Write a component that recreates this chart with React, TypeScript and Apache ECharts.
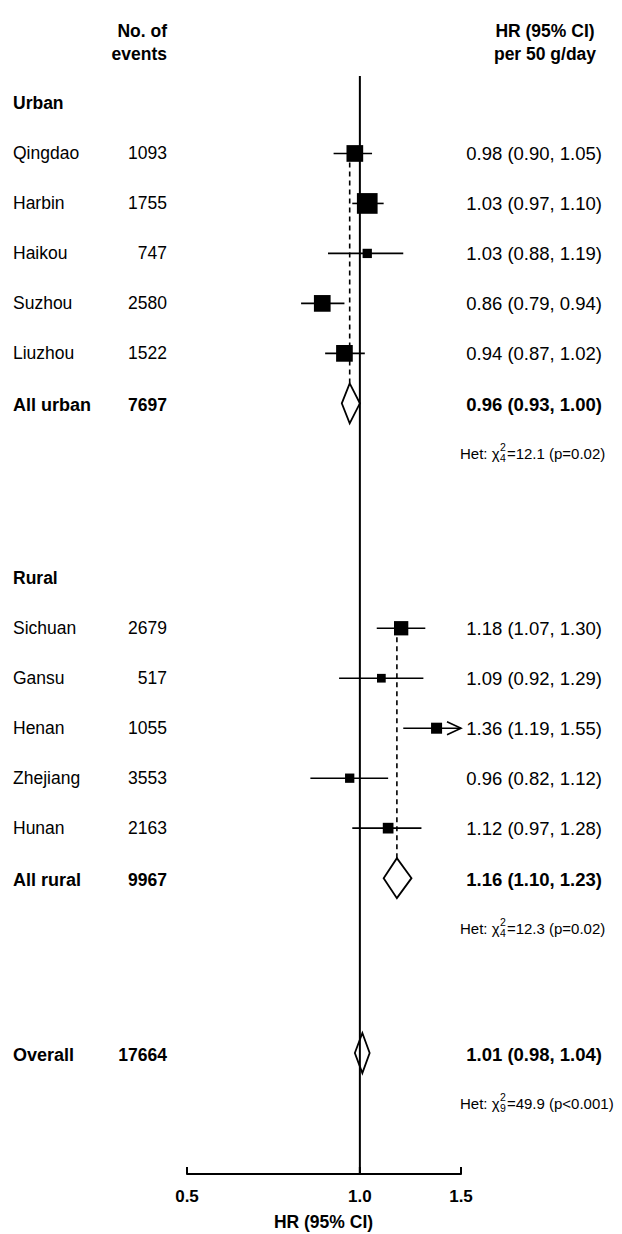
import React, { useEffect, useRef } from 'react';
import * as echarts from 'echarts';

// ---------- data ----------
const groupNames = ['Urban', 'Rural'];

const urbanNames = ['Qingdao', 'Harbin', 'Haikou', 'Suzhou', 'Liuzhou'];
const urbanEvents = [1093, 1755, 747, 2580, 1522];
const urbanHR = [0.98, 1.03, 1.03, 0.86, 0.94];
const urbanLower = [0.9, 0.97, 0.88, 0.79, 0.87];
const urbanUpper = [1.05, 1.1, 1.19, 0.94, 1.02];
const urbanWeight = [15.8, 24.3, 4.9, 15.8, 15.8];

const ruralNames = ['Sichuan', 'Gansu', 'Henan', 'Zhejiang', 'Hunan'];
const ruralEvents = [2679, 517, 1055, 3553, 2163];
const ruralHR = [1.18, 1.09, 1.36, 0.96, 1.12];
const ruralLower = [1.07, 0.92, 1.19, 0.82, 0.97];
const ruralUpper = [1.3, 1.29, 1.55, 1.12, 1.28];
const ruralWeight = [11.6, 4.3, 6.9, 4.9, 6.5];

const summaryNames = ['All urban', 'All rural', 'Overall'];
const summaryEvents = [7697, 9967, 17664];
const summaryHR = [0.96, 1.16, 1.01];
const summaryLower = [0.93, 1.1, 0.98];
const summaryUpper = [1.0, 1.23, 1.04];

const hetChi2 = ['12.1', '12.3', '49.9'];
const hetDf = ['4', '4', '9'];
const hetP = ['p=0.02', 'p=0.02', 'p<0.001'];

const axisTicks = [0.5, 1.0, 1.5];
const axisTitle = 'HR (95% CI)';
const leftHeader = ['No. of', 'events'];
const rightHeader = ['HR (95% CI)', 'per 50 g/day'];

// ---------- layout ----------
const FONT = '"Liberation Sans", Arial, sans-serif';
const ROW_FS = 17.5;
const HR_FS = 18.5;
const HDR_FS = 17.5;
const HET_FS = 15;
const X_MIN = 0.5;
const X_MAX = 1.5;
const Y_MIN = -0.55;
const Y_MAX = 21.42;
const GROUP_START = [0, 9.5];
const OVERALL_ROW = 19;
const DIAMOND_HALF = 20;
const BOX_K = 4.2;
const NAME_X = 13;
const EVENTS_X = 167;
const HR_X = 602;
const HET_X = 460;

const fmt = (v: number) => v.toFixed(2);
const ciText = (h: number, l: number, u: number) => `${fmt(h)} (${fmt(l)}, ${fmt(u)})`;

type Study = { name: string; events: number; hr: number; lo: number; hi: number; w: number; r: number };
const groupsData = [
  { names: urbanNames, events: urbanEvents, hr: urbanHR, lo: urbanLower, hi: urbanUpper, w: urbanWeight },
  { names: ruralNames, events: ruralEvents, hr: ruralHR, lo: ruralLower, hi: ruralUpper, w: ruralWeight },
];
const studies: Study[] = [];
groupsData.forEach((g, gi) => {
  g.names.forEach((n, i) => {
    studies.push({ name: n, events: g.events[i], hr: g.hr[i], lo: g.lo[i], hi: g.hi[i], w: g.w[i], r: GROUP_START[gi] + 1 + i });
  });
});
const summaryRows = [GROUP_START[0] + 6, GROUP_START[1] + 6, OVERALL_ROW];

let measureCtx: CanvasRenderingContext2D | null = null;
function textWidth(t: string, size: number, weight = 'normal') {
  if (!measureCtx) measureCtx = document.createElement('canvas').getContext('2d');
  if (!measureCtx) return t.length * size * 0.55;
  measureCtx.font = `${weight} ${size}px ${FONT}`;
  return measureCtx.measureText(t).width;
}

function txt(text: string, x: number, y: number, size: number, align: string, weight = 'normal') {
  return {
    type: 'text',
    style: { text, x, y, fill: '#000', fontSize: size, fontFamily: FONT, fontWeight: weight, align, verticalAlign: 'middle' },
  };
}

function gtext(text: string, x: number, y: number, size: number, align: string) {
  return {
    type: 'text',
    x,
    y,
    style: { text, fill: '#000', fontSize: size, fontWeight: 'bold', fontFamily: FONT, align, verticalAlign: 'middle' },
  };
}

export default function App() {
  const ref = useRef<HTMLDivElement>(null);
  useEffect(() => {
    if (!ref.current) return;
    const chart = echarts.init(ref.current, undefined, { renderer: 'svg' });
    const option: any = {
      animation: false,
      backgroundColor: '#fff',
      grid: { left: 187, right: 161, top: 76, bottom: 60, containLabel: false, outerBoundsMode: 'none' },
      xAxis: {
        type: 'log',
        logBase: 10,
        min: X_MIN,
        max: X_MAX,
        axisLine: { show: true, onZero: false, lineStyle: { color: '#000', width: 2 } },
        axisTick: { show: false },
        axisLabel: { show: false },
        splitLine: { show: false },
      },
      yAxis: { type: 'value', min: Y_MIN, max: Y_MAX, inverse: true, show: false, splitLine: { show: false } },
      graphic: [
        gtext(leftHeader[0], 167, 31, HDR_FS, 'right'),
        gtext(leftHeader[1], 167, 54, HDR_FS, 'right'),
        gtext(rightHeader[0], 545, 31, HDR_FS, 'center'),
        gtext(rightHeader[1], 545, 54, HDR_FS, 'center'),
        gtext(axisTitle, 323.5, 1222, 17.5, 'center'),
      ],
      series: [
        // dashed lines for subgroup estimates
        {
          type: 'custom',
          clip: false,
          z: 1,
          data: [0, 1].map((gi) => [summaryHR[gi], GROUP_START[gi] + 1]),
          renderItem: (params: any, api: any) => {
            const gi = params.dataIndex;
            const top = api.coord([summaryHR[gi], GROUP_START[gi] + 1]);
            const bot = api.coord([summaryHR[gi], summaryRows[gi]]);
            return {
              type: 'line',
              shape: { x1: top[0], y1: top[1], x2: bot[0], y2: bot[1] - DIAMOND_HALF },
              style: { stroke: '#000', lineWidth: 1.6, lineDash: [5, 4] },
            };
          },
        },
        // group headers
        {
          type: 'custom',
          clip: false,
          z: 2,
          data: groupNames.map((_, gi) => [1, GROUP_START[gi]]),
          renderItem: (params: any, api: any) => {
            const c = api.coord([1, GROUP_START[params.dataIndex]]);
            return txt(groupNames[params.dataIndex], NAME_X, c[1], 17.5, 'left', 'bold');
          },
        },
        // studies
        {
          type: 'custom',
          clip: false,
          z: 3,
          data: studies.map((s) => [s.hr, s.r]),
          renderItem: (params: any, api: any) => {
            const s = studies[params.dataIndex];
            const c = api.coord([s.hr, s.r]);
            const y = c[1];
            const xMinPx = api.coord([X_MIN, s.r])[0];
            const xMaxPx = api.coord([X_MAX, s.r])[0];
            const xl = Math.max(api.coord([s.lo, s.r])[0], xMinPx);
            const xr = Math.min(api.coord([s.hi, s.r])[0], xMaxPx);
            const side = BOX_K * Math.sqrt(s.w);
            const children: any[] = [
              { type: 'line', shape: { x1: xl, y1: y, x2: xr, y2: y }, style: { stroke: '#000', lineWidth: 1.6 } },
              { type: 'rect', shape: { x: c[0] - side / 2, y: y - side / 2, width: side, height: side }, style: { fill: '#000' } },
              txt(s.name, NAME_X, y, ROW_FS, 'left'),
              txt(String(s.events), EVENTS_X, y, ROW_FS, 'right'),
              txt(ciText(s.hr, s.lo, s.hi), HR_X, y, HR_FS, 'right'),
            ];
            if (s.hi > X_MAX) {
              children.push({
                type: 'polyline',
                shape: { points: [[xr - 14, y - 6.5], [xr, y], [xr - 14, y + 6.5]] },
                style: { stroke: '#000', lineWidth: 1.6, fill: 'none' },
              });
            }
            return { type: 'group', children };
          },
        },
        // summaries (diamonds)
        {
          type: 'custom',
          clip: false,
          z: 3,
          data: summaryHR.map((h, i) => [h, summaryRows[i]]),
          renderItem: (params: any, api: any) => {
            const i = params.dataIndex;
            const r = summaryRows[i];
            const c = api.coord([summaryHR[i], r]);
            const xl = api.coord([summaryLower[i], r])[0];
            const xr = api.coord([summaryUpper[i], r])[0];
            const y = c[1];
            return {
              type: 'group',
              children: [
                {
                  type: 'polygon',
                  shape: { points: [[xl, y], [c[0], y - DIAMOND_HALF], [xr, y], [c[0], y + DIAMOND_HALF]] },
                  style: { fill: '#fff', stroke: '#000', lineWidth: 1.8 },
                },
                txt(summaryNames[i], NAME_X, y + 1.5, 18, 'left', 'bold'),
                txt(String(summaryEvents[i]), EVENTS_X, y + 1.5, ROW_FS, 'right', 'bold'),
                txt(ciText(summaryHR[i], summaryLower[i], summaryUpper[i]), HR_X, y + 1.5, HR_FS, 'right', 'bold'),
              ],
            };
          },
        },
        // heterogeneity texts
        {
          type: 'custom',
          clip: false,
          z: 3,
          data: summaryRows.map((r) => [1, r + 1]),
          renderItem: (params: any, api: any) => {
            const i = params.dataIndex;
            const y = api.coord([1, summaryRows[i] + 1])[1];
            const p1 = 'Het: \u03c7';
            const x1 = HET_X + textWidth(p1, HET_FS);
            const sw = Math.max(textWidth('2', 10.5), textWidth(hetDf[i], 10.5));
            const p2 = `=${hetChi2[i]} (${hetP[i]})`;
            return {
              type: 'group',
              children: [
                txt(p1, HET_X, y, HET_FS, 'left'),
                txt('2', x1 + 0.5, y - 6, 10.5, 'left'),
                txt(hetDf[i], x1 + 0.5, y + 5, 10.5, 'left'),
                txt(p2, x1 + sw + 1.5, y, HET_FS, 'left'),
              ],
            };
          },
        },
        // axis ticks and labels
        {
          type: 'custom',
          clip: false,
          z: 3,
          data: axisTicks.map((v) => [v, Y_MAX]),
          renderItem: (params: any, api: any) => {
            const v = axisTicks[params.dataIndex];
            const c = api.coord([v, Y_MAX]);
            return {
              type: 'group',
              children: [
                { type: 'line', shape: { x1: c[0], y1: c[1], x2: c[0], y2: c[1] - 7 }, style: { stroke: '#000', lineWidth: 2 } },
                txt(v.toFixed(1), c[0], c[1] + 22, 17, 'center', 'bold'),
              ],
            };
          },
        },
        // reference line at HR = 1
        {
          type: 'line',
          z: 5,
          symbol: 'none',
          silent: true,
          data: [[1, Y_MIN], [1, Y_MAX]],
          lineStyle: { color: '#000', width: 2 },
        },
      ],
    };
    chart.setOption(option);
    return () => chart.dispose();
  }, []);
  return <div ref={ref} style={{ position: 'absolute', left: 0, top: 0, width: 622, height: 1234 }} />;
}
